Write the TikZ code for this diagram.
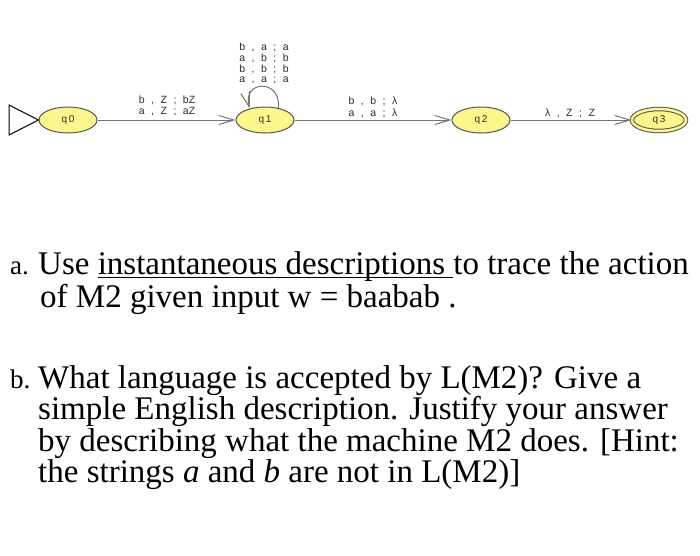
\documentclass[tikz,border=0pt]{standalone}
\usepackage{fontspec}
\setmainfont{Liberation Serif}
\newfontfamily\lblfont{Liberation Sans}
\usetikzlibrary{arrows.meta,shapes.geometric}
\definecolor{stfill}{RGB}{252,246,140}
\definecolor{edgegray}{RGB}{115,115,115}
\definecolor{stroke}{RGB}{85,85,85}
\definecolor{lblgray}{RGB}{45,45,45}
\newcommand{\trl}[3]{#1\hspace{6.5pt},\hspace{6.5pt}#2\hspace{6.5pt};\hspace{6.5pt}#3}
\newsavebox{\ulbox}
\newcommand{\myul}[1]{\sbox{\ulbox}{#1}\rlap{\rule[-4pt]{\wd\ulbox}{1.1pt}}\usebox{\ulbox}}
\begin{document}
\begin{tikzpicture}[x=1pt,y=-1pt,
  state/.style={ellipse, draw=stroke, line width=1pt, fill=stfill, minimum width=58pt, minimum height=26pt, inner sep=0pt, font=\lblfont\fontsize{10}{11}\selectfont, text=lblgray},
  conn/.style={draw=edgegray, line width=1pt, -{Straight Barb[length=15pt,width=9pt]}},
  elbl/.style={font=\lblfont\fontsize{10.5}{11}\selectfont, text=lblgray, inner sep=0pt},
  body/.style={anchor=base west, inner sep=0pt, font=\fontsize{33}{36}\selectfont},
  itemlbl/.style={anchor=base west, inner sep=0pt, font=\fontsize{27}{30}\selectfont}]
\fill[white] (0,0) rectangle (700,555);
\useasboundingbox (0,0) rectangle (700,555);
% states
\node[state] (q0) at (68,120) {q\,0};
\node[state] (q1) at (265,120) {q\,1};
\node[state] (q2) at (481,120) {q\,2};
\node[state, double=stfill, double distance=2.5pt, minimum width=54pt, minimum height=22pt] (q3) at (659,120) {q\,3};
% start triangle
\coordinate (t1) at (9,105);
\coordinate (t2) at (9,135);
\draw[stroke, line width=1pt] (q0.west) -- (t1) -- (t2) -- cycle;
% transitions
\draw[conn] (q0) -- (q1);
\draw[conn] (q1) -- (q2);
\draw[conn] (q2) -- (q3);
\draw[conn] (q1.42) .. controls +(3,-30) and +(-8,-28) .. (q1.143);
% labels
\node[elbl] (l01a) at (167,100) {\trl{b}{Z}{bZ}};
\node[elbl] (l01b) at (167,111.5) {\trl{a}{Z}{aZ}};
\node[elbl] (l11a) at (264,47) {\trl{b}{a}{a}};
\node[elbl] (l11b) at (264,58) {\trl{a}{b}{b}};
\node[elbl] (l11c) at (264,69) {\trl{b}{b}{b}};
\node[elbl] (l11d) at (264,80) {\trl{a}{a}{a}};
\node[elbl] (l12a) at (373,101.5) {\trl{b}{b}{λ}};
\node[elbl] (l12b) at (373,113) {\trl{a}{a}{λ}};
\node[elbl] (l23) at (570,113.5) {\trl{λ}{Z}{Z}};
% text
\node[itemlbl] (la) at (10,274) {a.};
\node[body] (a1) at (38,274) {Use \myul{instantaneous descriptions }to trace the action};
\node[body] (a2) at (40,307) {of M2 given input w = baabab .};
\node[itemlbl] (lb) at (10,388) {b.};
\node[body] (b1) at (38,388) {What language is accepted by L(M2)? Give a};
\node[body] (b2) at (38,419.5) {simple English description. Justify your answer};
\node[body] (b3) at (38,451) {by describing what the machine M2 does. [Hint:};
\node[body] (b4) at (38,482.5) {the strings \textit{a} and \textit{b} are not in L(M2)]};
\end{tikzpicture}
\end{document}
